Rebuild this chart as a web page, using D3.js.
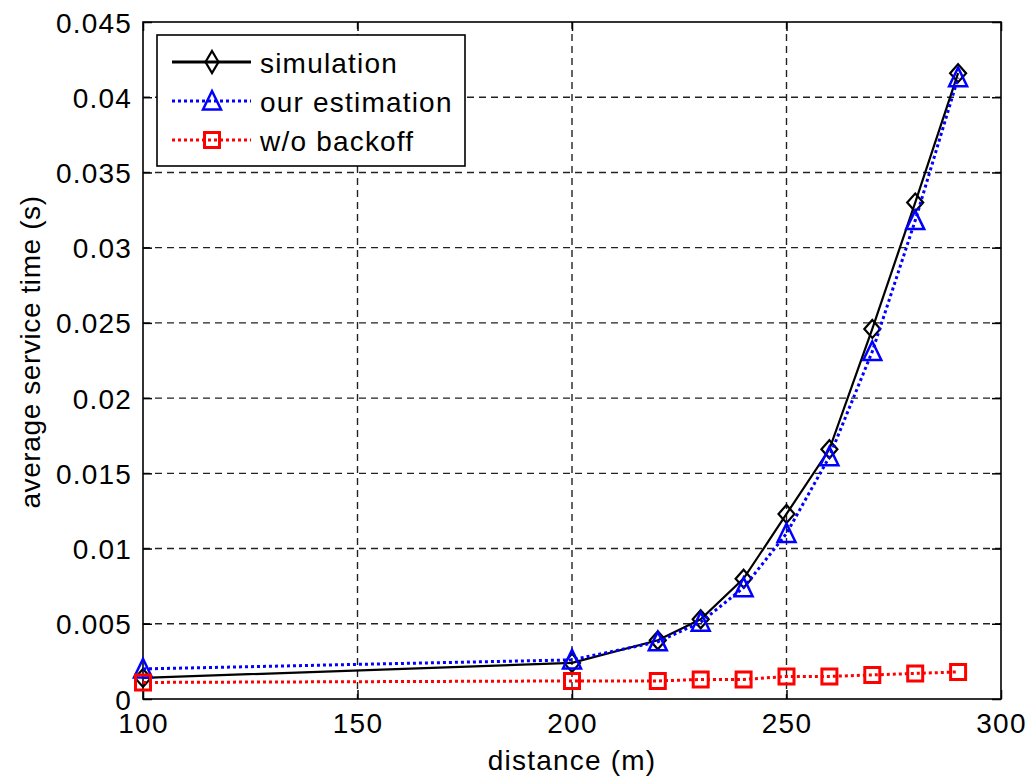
<!DOCTYPE html>
<html>
<head>
<meta charset="utf-8">
<script src="https://cdn.jsdelivr.net/npm/d3@7"></script>
<style>
  html, body { margin: 0; padding: 0; background: #fff; }
  svg { display: block; }
  text { font-family: "Liberation Sans", Arial, Helvetica, sans-serif; fill: #000; }
</style>
</head>
<body>
<svg id="chart" width="1031" height="783"></svg>
<script>
// Distance values (m) and average service time (s) for each method
const distance = [100, 200, 220, 230, 240, 250, 260, 270, 280, 290];
const simulation = [0.0014, 0.0024, 0.0039, 0.0053, 0.0080, 0.0123, 0.0166, 0.0246, 0.0330, 0.0416];
const ourEstimation = [0.0020, 0.0026, 0.0038, 0.0051, 0.0074, 0.0110, 0.0161, 0.0231, 0.0318, 0.0413];
const withoutBackoff = [0.0011, 0.0012, 0.0012, 0.0013, 0.0013, 0.0015, 0.0015, 0.0016, 0.0017, 0.0018];

const xTicks = [100, 150, 200, 250, 300];
const yTicks = [0, 0.005, 0.01, 0.015, 0.02, 0.025, 0.03, 0.035, 0.04, 0.045];
const yTickLabels = ["0", "0.005", "0.01", "0.015", "0.02", "0.025", "0.03", "0.035", "0.04", "0.045"];
const legendLabels = ["simulation", "our estimation", "w/o backoff"];

const svg = d3.select("#chart");
const plotLeft = 143, plotRight = 1001, plotTop = 22, plotBottom = 699;
const x = d3.scaleLinear().domain([100, 300]).range([plotLeft, plotRight]);
const y = d3.scaleLinear().domain([0, 0.045]).range([plotBottom, plotTop]);

const fontSize = 28, spacing = 1.2, tickLen = 9;

// Grid lines
const grid = svg.append("g")
  .attr("stroke", "#222").attr("stroke-width", 1.4).attr("stroke-dasharray", "7,5");
xTicks.slice(1, -1).forEach(t => {
  grid.append("line").attr("x1", x(t)).attr("x2", x(t)).attr("y1", plotTop).attr("y2", plotBottom);
});
yTicks.slice(1, -1).forEach(t => {
  grid.append("line").attr("x1", plotLeft).attr("x2", plotRight).attr("y1", y(t)).attr("y2", y(t));
});

// Axes with inward ticks on all four sides
const axBottom = d3.axisBottom(x).tickValues(xTicks).tickSize(-tickLen).tickFormat(d3.format("d"));
const axTop = d3.axisTop(x).tickValues(xTicks).tickSize(-tickLen).tickFormat("");
const axLeft = d3.axisLeft(y).tickValues(yTicks).tickSize(-tickLen).tickFormat((d, i) => yTickLabels[i]);
const axRight = d3.axisRight(y).tickValues(yTicks).tickSize(-tickLen).tickFormat("");

function styleAxis(g) {
  g.select(".domain").remove();
  g.selectAll(".tick line").attr("stroke", "#000").attr("stroke-width", 1.5);
  g.selectAll(".tick text")
    .style("font-size", fontSize + "px")
    .style("letter-spacing", spacing + "px")
    .attr("fill", "#000");
}

const gB = svg.append("g").attr("transform", `translate(0,${plotBottom})`).call(axBottom).call(styleAxis);
gB.selectAll(".tick text").attr("y", 34).attr("dy", 0);
svg.append("g").attr("transform", `translate(0,${plotTop})`).call(axTop).call(styleAxis);
const gL = svg.append("g").attr("transform", `translate(${plotLeft},0)`).call(axLeft).call(styleAxis);
gL.selectAll(".tick text").attr("x", -11).attr("dy", "0.36em");
svg.append("g").attr("transform", `translate(${plotRight},0)`).call(axRight).call(styleAxis);

// Plot frame
svg.append("rect")
  .attr("x", plotLeft).attr("y", plotTop)
  .attr("width", plotRight - plotLeft).attr("height", plotBottom - plotTop)
  .attr("fill", "none").attr("stroke", "#000").attr("stroke-width", 1.6);

// Series definitions
const series = [
  { name: legendLabels[0], values: simulation, color: "#000", dash: null, width: 2.2, marker: "diamond" },
  { name: legendLabels[1], values: ourEstimation, color: "#0000ff", dash: "3,3", width: 3, marker: "triangle" },
  { name: legendLabels[2], values: withoutBackoff, color: "#ff0000", dash: "3,3", width: 3, marker: "square" }
];

function markerPath(type, hw, hh) {
  if (type === "diamond") {
    return `M0,${-hh}L${hw},0L0,${hh}L${-hw},0Z`;
  } else if (type === "triangle") {
    return `M0,${-hh}L${hw},${hh * 0.85}L${-hw},${hh * 0.85}Z`;
  } else {
    return `M${-hw},${-hh}H${hw}V${hh}H${-hw}Z`;
  }
}
const markerSize = { diamond: [8, 9], triangle: [9, 10], square: [7.5, 7.5] };
const markerStroke = { diamond: 2.2, triangle: 2.5, square: 3 };

const line = d3.line().x((d, i) => x(distance[i])).y(d => y(d));

series.forEach(s => {
  const g = svg.append("g");
  g.append("path")
    .datum(s.values)
    .attr("d", line)
    .attr("fill", "none")
    .attr("stroke", s.color)
    .attr("stroke-width", s.width)
    .attr("stroke-dasharray", s.dash);
  const [hw, hh] = markerSize[s.marker];
  g.selectAll("path.m")
    .data(s.values)
    .join("path")
    .attr("class", "m")
    .attr("transform", (d, i) => `translate(${x(distance[i])},${y(d)})`)
    .attr("d", markerPath(s.marker, hw, hh))
    .attr("fill", "none")
    .attr("stroke", s.color)
    .attr("stroke-width", markerStroke[s.marker]);
});

// Legend
const legend = svg.append("g");
legend.append("rect")
  .attr("x", 157).attr("y", 35).attr("width", 308).attr("height", 131)
  .attr("fill", "#fff").attr("stroke", "#000").attr("stroke-width", 1.6);
series.forEach((s, i) => {
  const cy = 62 + i * 39;
  legend.append("line")
    .attr("x1", 172).attr("x2", 251).attr("y1", cy).attr("y2", cy)
    .attr("stroke", s.color).attr("stroke-width", 3)
    .attr("stroke-dasharray", s.dash);
  const size = s.marker === "diamond" ? [6.5, 11] : markerSize[s.marker];
  legend.append("path")
    .attr("transform", `translate(212,${cy})`)
    .attr("d", markerPath(s.marker, size[0], size[1]))
    .attr("fill", "none")
    .attr("stroke", s.color)
    .attr("stroke-width", markerStroke[s.marker]);
  legend.append("text")
    .attr("x", 260).attr("y", cy + 11)
    .style("font-size", fontSize + "px")
    .style("letter-spacing", spacing + "px")
    .text(s.name);
});

// Axis titles
svg.append("text")
  .attr("x", (plotLeft + plotRight) / 2).attr("y", 770)
  .attr("text-anchor", "middle")
  .style("font-size", fontSize + "px")
  .style("letter-spacing", spacing + "px")
  .text("distance (m)");

svg.append("text")
  .attr("transform", "translate(40,352) rotate(-90)")
  .attr("text-anchor", "middle")
  .style("font-size", fontSize + "px")
  .style("letter-spacing", "0.6px")
  .text("average service time (s)");
</script>
</body>
</html>
